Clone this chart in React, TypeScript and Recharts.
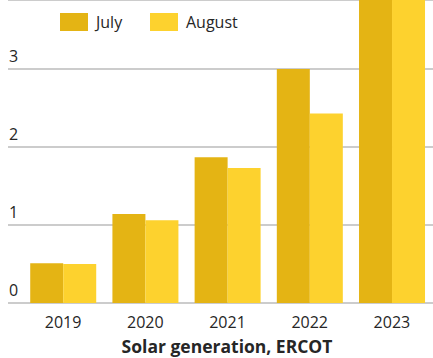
import { BarChart, Bar, XAxis, YAxis, CartesianGrid, Legend } from 'recharts';

const years = ['2019', '2020', '2021', '2022', '2023'];
const july = [0.51, 1.14, 1.87, 3.0, 4.4];
const august = [0.5, 1.06, 1.73, 2.43, 4.3];
const yTicks = [0, 1, 2, 3];

const JULY_COLOR = '#e4b414';
const AUGUST_COLOR = '#fdd22e';
const TEXT_COLOR = '#262626';
const FONT = '"Open Sans", "Noto Sans", sans-serif';

const chartData = years.map((year, i) => ({
  year,
  july: july[i],
  august: august[i],
}));

// value labels sit just above their gridline, flush with the left edge
function YTick({ y, payload }: any) {
  return (
    <text x={9} y={y - 7} fill={TEXT_COLOR} fontSize={16} fontFamily={FONT} textAnchor="start">
      {payload.value}
    </text>
  );
}

// tick y already includes tickSize + tickMargin (8px below the baseline)
function XTick({ x, y, payload }: any) {
  return (
    <text x={x} y={y + 16.5} fill={TEXT_COLOR} fontSize={16} fontFamily={FONT} textAnchor="middle">
      {payload.value}
    </text>
  );
}

function LegendBox() {
  const item = (color: string, label: string, left: number) => (
    <div style={{ position: 'absolute', left, top: 13, display: 'flex', alignItems: 'center' }}>
      <div style={{ width: 28, height: 18, background: color }} />
      <span style={{ marginLeft: 8, fontSize: 16, color: TEXT_COLOR, fontFamily: FONT, lineHeight: '18px' }}>
        {label}
      </span>
    </div>
  );
  return (
    <div style={{ position: 'relative', width: 433, height: 40 }}>
      {item(JULY_COLOR, 'July', 60)}
      {item(AUGUST_COLOR, 'August', 150)}
    </div>
  );
}

export default function App() {
  return (
    <div style={{ position: 'absolute', left: 0, top: 0, width: 433, height: 358, background: '#fff' }}>
      <BarChart
        width={433}
        height={358}
        data={chartData}
        margin={{ top: 0, right: 0, bottom: 0, left: 0 }}
        barCategoryGap="10%"
        barGap={0}
      >
        <CartesianGrid horizontal vertical={false} stroke="#cccccc" strokeWidth={2} />
        <XAxis
          dataKey="year"
          height={55}
          axisLine={false}
          tickLine={false}
          padding={{ left: 14, right: 0 }}
          tick={<XTick />}
          interval={0}
        />
        <YAxis
          width={8}
          domain={[0, 3.885]}
          ticks={yTicks}
          allowDataOverflow
          axisLine={false}
          tickLine={false}
          tick={<YTick />}
        />
        <Legend
          layout="horizontal"
          verticalAlign="middle"
          align="center"
          wrapperStyle={{ top: 0, left: 0 }}
          content={() => <LegendBox />}
        />
        <Bar dataKey="july" fill={JULY_COLOR} isAnimationActive={false} />
        <Bar dataKey="august" fill={AUGUST_COLOR} isAnimationActive={false} />
        <text
          x={227}
          y={353}
          textAnchor="middle"
          fill={TEXT_COLOR}
          fontSize={17.5}
          fontWeight="bold"
          fontFamily={FONT}
        >
          Solar generation, ERCOT
        </text>
      </BarChart>
    </div>
  );
}
